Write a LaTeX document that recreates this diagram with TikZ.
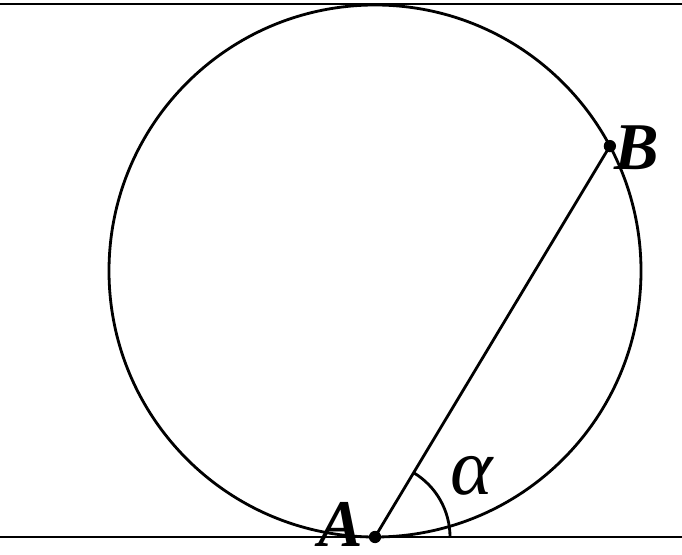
\documentclass[tikz,border=0pt]{standalone}
\usepackage{fontspec}
\setmainfont{Liberation Serif}
\usetikzlibrary{positioning, calc}

\begin{document}
\begin{tikzpicture}[x=0.02cm, y=0.02cm,
    line width=1.6pt,
    lbl/.style={font=\fontsize{38}{40}\selectfont\bfseries\itshape, inner sep=0pt},
    pt/.style={circle, fill=black, inner sep=0pt, minimum size=7pt}]
  \useasboundingbox (0,0) rectangle (682,554);
  % the two parallel lines
  \coordinate (TL) at (0,550);
  \coordinate (TR) at (682,550);
  \coordinate (BL) at (0,17);
  \coordinate (BR) at (682,17);
  \draw (TL) -- (TR);
  \draw (BL) -- (BR);
  % circle between them
  \coordinate (O) at (375,283);
  \draw (O) circle[radius=266];
  \node[pt] (A) at (375,17) {};
  \node[pt] (B) at ($(O)+(28:266)$) {};
  \draw (A.center) -- (B.center);
  % angle alpha
  \draw ($(A.center)+(75,0)$) arc[start angle=0, end angle=59, radius=75];
  \node[lbl] (Alab) at (341,30) {A};
  \node[lbl, above right=-14pt and 2pt of B.center] (Blab) {B};
  \node[font=\fontsize{46}{48}\selectfont\itshape, inner sep=0pt] (alph) at (472,78) {α};
\end{tikzpicture}
\end{document}
